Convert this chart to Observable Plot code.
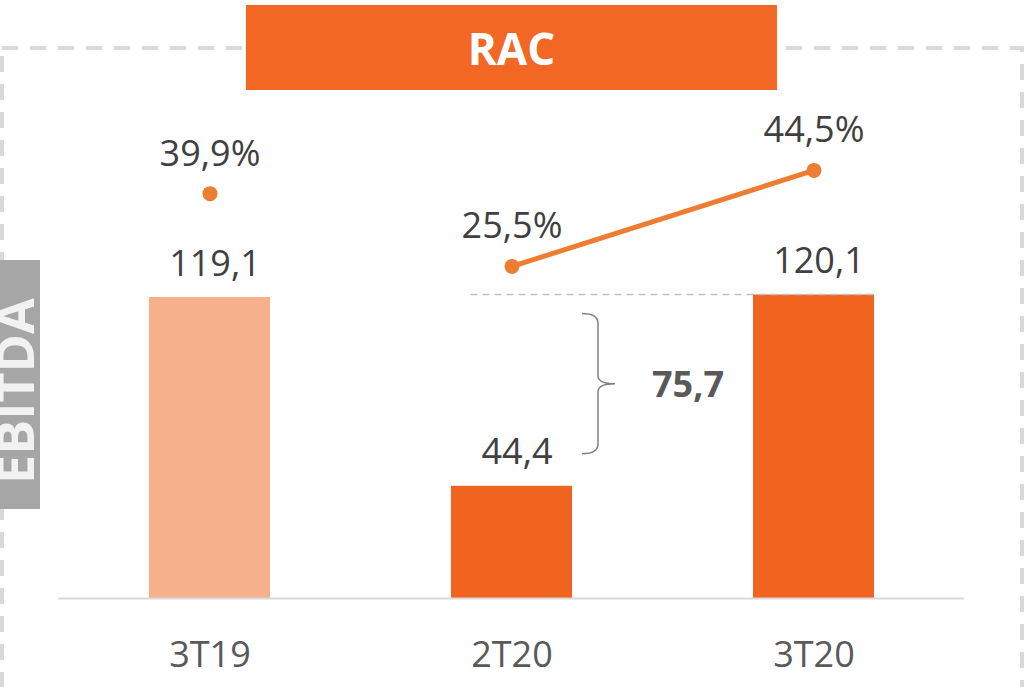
<!DOCTYPE html>
<html>
<head>
<meta charset="utf-8">
<script src="https://cdn.jsdelivr.net/npm/d3@7"></script>
<script src="https://cdn.jsdelivr.net/npm/@observablehq/plot@0.6"></script>
<style>
html, body { margin: 0; padding: 0; background: #fff; overflow: hidden; }
#wrap { position: relative; width: 1027px; height: 687px; font-family: 'Open Sans', sans-serif; }
#decor, #chart { position: absolute; left: 0; top: 0; }
#title { position: absolute; left: 246px; top: 5px; width: 531px; height: 85px; background: #F26724; color: #fff;
  font-weight: 700; font-size: 44px; display: flex; align-items: center; justify-content: center; }
</style>
</head>
<body>
<div id="wrap">
  <svg id="decor" width="1027" height="687"></svg>
  <div id="chart"></div>
  <div id="title"></div>
</div>
<script>
// ---- data ----
const periods = ["3T19", "2T20", "3T20"];
const ebitda = [119.1, 44.4, 120.1];
const ebitdaLabels = ["119,1", "44,4", "120,1"];
const marginPct = [39.9, 25.5, 44.5];
const marginLabels = ["39,9%", "25,5%", "44,5%"];
const connected = [false, true, true];
const variationLabel = "75,7";
const titleText = "RAC";
const sideLabel = "EBITDA";

const rows = periods.map((p, i) => ({
  period: p, ebitda: ebitda[i], eLabel: ebitdaLabels[i],
  margin: marginPct[i], mLabel: marginLabels[i], base: i === 0, connected: connected[i]
}));

// secondary (margin %) axis mapped onto the EBITDA axis
const m2y = m => 80.4 + 2 * m;

const font = "'Open Sans', sans-serif";
const textColor = "#404040";

const chart = Plot.plot({
  width: 1027, height: 687,
  marginLeft: 58, marginRight: 63, marginTop: 42, marginBottom: 89,
  style: { fontFamily: font, background: "transparent", overflow: "visible" },
  x: { domain: periods, paddingInner: 0.6, paddingOuter: 0.3, axis: null },
  y: { domain: [0, 220], axis: null },
  marks: [
    Plot.barY(rows.filter(d => d.base), { x: "period", y: "ebitda", fill: "#F6B18C" }),
    Plot.barY(rows.filter(d => !d.base), { x: "period", y: "ebitda", fill: "#F0641F" }),
    Plot.ruleY([0], { stroke: "#D9D9D9", strokeWidth: 2 }),
    Plot.text(rows, { x: "period", y: "ebitda", text: "eLabel", lineAnchor: "bottom", dy: -22, dx: 5, fontSize: 36, fill: textColor }),
    Plot.line(rows.filter(d => d.connected), { x: "period", y: d => m2y(d.margin), stroke: "#ED7D31", strokeWidth: 5 }),
    Plot.dot(rows, { x: "period", y: d => m2y(d.margin), r: 7.5, fill: "#ED7D31" }),
    Plot.text(rows, { x: "period", y: d => m2y(d.margin), text: "mLabel", lineAnchor: "bottom", dy: -28, fontSize: 36, fill: textColor }),
    Plot.text(periods, { x: d => d, text: d => d, frameAnchor: "bottom", lineAnchor: "bottom", dy: 68, fontSize: 36, fill: "#595959" })
  ]
});
document.getElementById("chart").appendChild(chart);

// ---- annotations using the plot's scales ----
const xs = chart.scale("x"), ys = chart.scale("y");
const X = xs.apply ? (v => xs.apply(v)) :
  d3.scaleBand(xs.domain, xs.range).paddingInner(0.6).paddingOuter(0.3);
const bw = xs.bandwidth;
const Y = ys.apply ? (v => ys.apply(v)) : d3.scaleLinear(ys.domain, ys.range);

const svg = d3.select(chart);
const g = svg.append("g").attr("class", "annotations");

// dashed reference line at the 3T20 level
g.append("line")
  .attr("x1", X("2T20") + bw / 2 - 41).attr("x2", X("3T20") + bw + 3)
  .attr("y1", Y(ebitda[2])).attr("y2", Y(ebitda[2]))
  .attr("stroke", "#BFBFBF").attr("stroke-width", 1.5).attr("stroke-dasharray", "7 5");

// brace between 2T20 and 3T20 levels
const bx = X("2T20") + bw + 26;
const yt = Y(ebitda[2]) + 19, yb = Y(ebitda[1]) - 32, ym = (yt + yb) / 2;
g.append("path")
  .attr("d", `M${bx - 16},${yt} Q${bx},${yt} ${bx},${yt + 10} L${bx},${ym - 8} Q${bx},${ym} ${bx + 17},${ym} Q${bx},${ym} ${bx},${ym + 8} L${bx},${yb - 10} Q${bx},${yb} ${bx - 16},${yb}`)
  .attr("fill", "none").attr("stroke", "#808080").attr("stroke-width", 1.5);
g.append("text")
  .attr("x", bx + 54).attr("y", ym + 13)
  .attr("text-anchor", "start")
  .attr("font-family", font).attr("font-weight", 700).attr("font-size", 36).attr("fill", "#595959")
  .text(variationLabel);

// ---- decorations ----
const decor = d3.select("#decor");
decor.append("rect")
  .attr("x", 2).attr("y", 48).attr("width", 1020).attr("height", 700)
  .attr("fill", "none").attr("stroke", "#D9D9D9").attr("stroke-width", 4).attr("stroke-dasharray", "16 12");
decor.append("rect").attr("x", 0).attr("y", 260).attr("width", 40).attr("height", 249).attr("fill", "#A6A6A6");
decor.append("text")
  .attr("transform", "translate(34,391) rotate(-90)")
  .attr("text-anchor", "middle")
  .attr("font-family", font).attr("font-weight", 700).attr("font-size", 52).attr("fill", "#F2F2F2")
  .text(sideLabel);

document.getElementById("title").textContent = titleText;
</script>
</body>
</html>
